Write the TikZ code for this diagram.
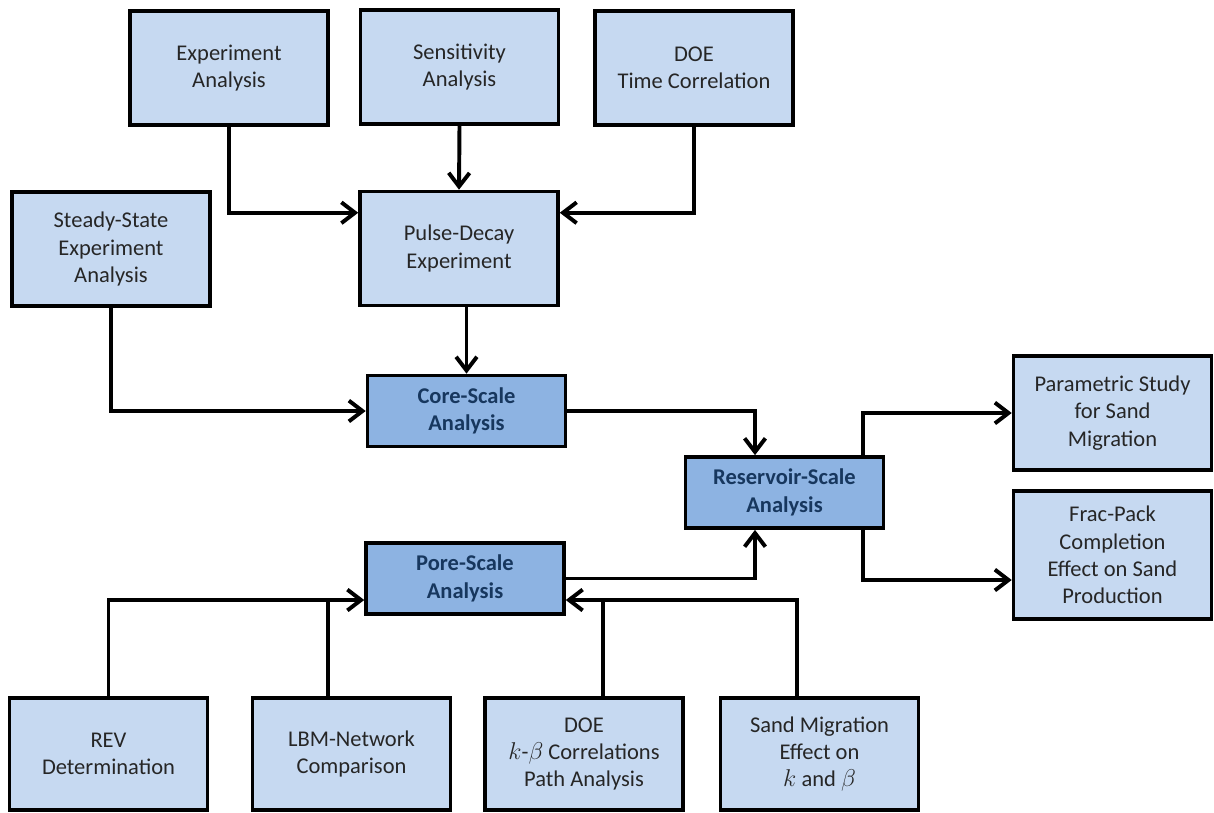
\documentclass[tikz,border=0pt]{standalone}
\usepackage{fontspec}
\setmainfont{Carlito}
\usepackage{xcolor}
\usepackage{tikz}
\usetikzlibrary{arrows.meta,calc}
\definecolor{boxblue}{HTML}{C6D9F1}
\definecolor{hubblue}{HTML}{8DB3E2}
\definecolor{hubtext}{HTML}{17375E}

\begin{document}
\begin{tikzpicture}[x=0.025cm,y=-0.025cm,
    box/.style={draw=black,line width=2.5pt,fill=boxblue,align=center,inner sep=0,
      minimum width=4.95cm,minimum height=2.85cm,text=black!85,
      font=\fontsize{16}{19.5}\selectfont},
    hub/.style={box,fill=hubblue,text=hubtext,minimum height=1.78cm,
      font=\fontsize{16}{19.5}\selectfont\bfseries},
    conn/.style={line width=2.8pt,-{Straight Barb[length=3.4mm,width=5.2mm]}},
    link/.style={line width=2.8pt}]

    \useasboundingbox (0,0) rectangle (1214,812);

    % Top row
    \node[box] (exp) at (229,68) {Experiment\\Analysis};
    \node[box] (sens) at (459.5,67) {Sensitivity\\Analysis};
    \node[box] (doet) at (694,68) {DOE\\Time Correlation};

    % Second row
    \node[box] (steady) at (111,249) {Steady-State\\Experiment\\Analysis};
    \node[box] (pulse) at (459,248.5) {Pulse-Decay\\Experiment};

    % The three scales
    \node[hub] (core) at (466.5,411) {Core-Scale\\Analysis};
    \node[hub] (res) at (784.5,492.5) {Reservoir-Scale\\Analysis};
    \node[hub] (pore) at (465,578.5) {Pore-Scale\\Analysis};

    % Right column
    \node[box] (param) at (1112.5,413) {Parametric Study\\for Sand\\Migration};
    \node[box,minimum height=3.2cm] (frac) at (1112.5,555) {Frac-Pack\\Completion\\Effect on Sand\\Production};

    % Bottom row
    \node[box,minimum height=2.8cm] (rev) at (108.5,754) {REV\\Determination};
    \node[box,minimum height=2.8cm] (lbm) at (351.5,754) {LBM-Network\\Comparison};
    \node[box,minimum height=2.8cm] (doekb) at (584,754) {DOE\\$k$-$\beta$ Correlations\\Path Analysis};
    \node[box,minimum height=2.8cm] (sandm) at (819.5,754) {Sand Migration\\Effect on\\$k$ and $\beta$};

    % Into the pulse-decay box
    \draw[conn] (exp.south) |- ($(pulse.north west)+(0,23)$);
    \draw[conn] (sens.south) -- (pulse.north);
    \draw[conn] (doet.south) |- ($(pulse.north east)+(0,23)$);

    % Into the core-scale box
    \draw[conn] (steady.south) |- (core.west);
    \draw[conn] (core.north |- pulse.south) -- (core.north);

    % Into and out of the reservoir-scale box
    \draw[conn] (core.east) -| ($(res.north)+(-29.5,0)$);
    \draw[conn] (pore.east) -| ($(res.south)+(-29.5,0)$);
    \draw[conn] ($(res.north east)+(-22,0)$) |- (param.west);
    \draw[conn] ($(res.south east)+(-22,0)$) |- ($(frac.west)+(0,25)$);

    % Into the pore-scale box
    \coordinate (pinL) at ($(pore.west)+(0,21.5)$);
    \coordinate (pinR) at ($(pore.east)+(0,21.5)$);
    \coordinate (lb) at ($(lbm.north)+(-23.5,0)$);
    \coordinate (dk) at ($(doekb.north)+(19,0)$);
    \draw[conn] (rev.north) |- (pinL);
    \draw[link] (lb) -- (lb |- pinL);
    \draw[conn] ($(sandm.north)+(-22.5,0)$) |- (pinR);
    \draw[link] (dk) -- (dk |- pinR);

\end{tikzpicture}
\end{document}
